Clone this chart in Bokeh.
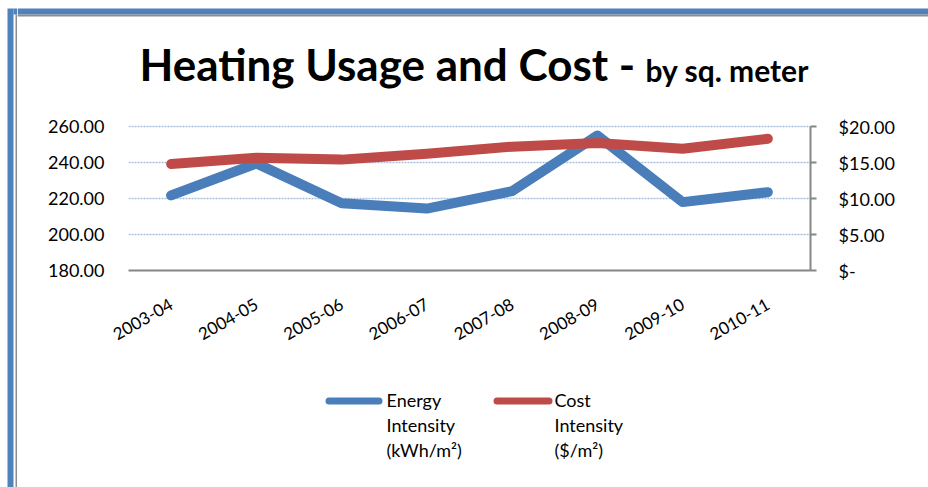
from bokeh.plotting import figure
from bokeh.models import (FactorRange, Range1d, LinearAxis, FixedTicker,
                          CustomJSTickFormatter, Plot)
from bokeh.layouts import row, column
from bokeh.core.properties import value
from bokeh.embed import file_html
from bokeh.resources import INLINE

# ---- data ----
years = ["2003-04", "2004-05", "2005-06", "2006-07", "2007-08", "2008-09", "2009-10", "2010-11"]
energy = [221.7, 239.5, 217.4, 214.4, 224.1, 255.0, 218.0, 223.5]   # kWh/m2
cost = [14.8, 15.65, 15.4, 16.2, 17.2, 17.7, 16.9, 18.3]             # $/m2
left_ticks = [180, 200, 220, 240, 260]
right_ticks = [0, 5, 10, 15, 20]
title_main = "Heating Usage and Cost -"
title_sub = "by sq. meter"
legend_labels = [["Energy", "Intensity", "(kWh/m²)"], ["Cost", "Intensity", "($/m²)"]]

BLUE = "#4A7EBB"
RED = "#BE4B48"
GRAY = "#868686"
FRAME_BLUE = "#4F81BD"
FRAME_GRAY = "#8C8C8C"
FONT = "Lato"

W, H = 928, 487
STRIP = 17            # width of left strip figure (page border)
TOP_H = 100           # title figure height
LEG_H = 112           # legend figure height
MAIN_H = H - TOP_H - LEG_H
CW = W - STRIP        # width of the right column

HAS_FA = "frame_align" in Plot.properties()


def no_align(f):
    if HAS_FA:
        f.frame_align = False
    return f


def blank(width, height, x0, x1, y0, y1):
    f = figure(width=width, height=height, x_range=Range1d(x0, x1), y_range=Range1d(y1, y0),
               min_border=0, x_axis_location=None, y_axis_location=None,
               output_backend="svg", toolbar_location=None,
               background_fill_color="white", border_fill_color="white")
    f.outline_line_color = None
    f.xgrid.visible = False
    f.ygrid.visible = False
    return no_align(f)


# ---- left strip (outer frame of the picture) ----
strip = blank(STRIP, H, 0, STRIP, 0, H)
strip.quad(left=[7, 13, 15], right=[13, STRIP, STRIP], top=[8, 8, 14], bottom=[H, 14, H],
           fill_color=[FRAME_BLUE, FRAME_BLUE, FRAME_GRAY], line_color=None)

# ---- title figure ----
tf = blank(CW, TOP_H, STRIP, W, 0, TOP_H)
tf.quad(left=[STRIP, STRIP], right=[W, W], top=[8, 14], bottom=[14, 16],
        fill_color=[FRAME_BLUE, FRAME_GRAY], line_color=None)
tf.text(x=[139], y=[63], text=[title_main], text_font=value(FONT), text_font_style="bold",
        text_font_size="44px", text_color="black", text_baseline="alphabetic", text_align="left")
tf.text(x=[645], y=[69], text=[title_sub], text_font=value(FONT), text_font_style="bold",
        text_font_size="30px", text_color="black", text_baseline="alphabetic", text_align="left")

# ---- main chart ----
FL, FW = 128 - STRIP, 682          # frame left (figure coords) and width
FT, FH = 124 - TOP_H, 146          # frame top (figure coords) and height
px_per_unit_l = 144 / 80
px_per_unit_r = 144 / 20
p = figure(x_range=FactorRange(factors=years, range_padding=0),
           y_range=Range1d(180, 260 + 2 / px_per_unit_l),
           frame_width=FW, frame_height=FH,
           min_border_left=FL, min_border_right=CW - FL - FW,
           min_border_top=FT, min_border_bottom=MAIN_H - FT - FH,
           output_backend="svg", toolbar_location=None,
           background_fill_color="white", border_fill_color="white")
no_align(p)
p.outline_line_color = None
p.extra_y_ranges = {"cost": Range1d(0, 20 + 2 / px_per_unit_r)}

p.xgrid.grid_line_color = None
p.ygrid.ticker = FixedTicker(ticks=left_ticks)
p.ygrid.grid_line_color = "#A9C0E0"
p.ygrid.grid_line_width = 1.5
p.ygrid.grid_line_dash = "2 1"

ya = p.yaxis[0]
ya.ticker = FixedTicker(ticks=left_ticks)
ya.formatter = CustomJSTickFormatter(code="return tick.toFixed(2);")
ya.axis_line_color = None
ya.major_tick_line_color = None
ya.minor_tick_line_color = None
ya.major_tick_out = 0
ya.major_label_standoff = 24
ya.major_label_text_font = FONT
ya.major_label_text_font_size = "18px"
ya.major_label_text_color = "black"

ra = LinearAxis(y_range_name="cost", ticker=FixedTicker(ticks=right_ticks), bounds=(0, 20),
                formatter=CustomJSTickFormatter(code="return tick == 0 ? '$-' : '$' + tick.toFixed(2);"))
ra.axis_line_color = GRAY
ra.axis_line_width = 2
ra.major_tick_line_color = GRAY
ra.major_tick_line_width = 2
ra.major_tick_in = 0
ra.major_tick_out = 6
ra.minor_tick_line_color = None
ra.major_label_standoff = 22
ra.major_label_text_font = FONT
ra.major_label_text_font_size = "18px"
ra.major_label_text_color = "black"
p.add_layout(ra, "right")

xa = p.xaxis[0]
xa.axis_line_color = GRAY
xa.axis_line_width = 2
xa.major_tick_line_color = None
xa.major_tick_out = 0
xa.major_label_standoff = 32
xa.major_label_orientation = 0.52
xa.major_label_text_font = FONT
xa.major_label_text_font_size = "17px"
xa.major_label_text_color = "black"

p.line(years, energy, line_color=BLUE, line_width=10, line_cap="round", line_join="round")
p.line(years, cost, y_range_name="cost", line_color=RED, line_width=10,
       line_cap="round", line_join="round")

# ---- legend figure ----
LT = TOP_H + MAIN_H
lf = blank(CW, LEG_H, STRIP, W, LT, H)
lf.segment(x0=[328.5, 496.5], y0=[400.5, 400.5], x1=[378.5, 548.5], y1=[400.5, 400.5],
           line_color=[BLUE, RED], line_width=7, line_cap="round")
leg_x = [386, 554]
for lx, lines in zip(leg_x, legend_labels):
    lf.text(x=[lx] * len(lines), y=[399 + 25 * i for i in range(len(lines))], text=lines,
            text_font=value(FONT), text_font_size="18px", text_color="black",
            text_baseline="alphabetic", text_align="left")

layout = row(strip, column(tf, p, lf, spacing=0), spacing=0)
open("out.html", "w").write(file_html(layout, INLINE))
